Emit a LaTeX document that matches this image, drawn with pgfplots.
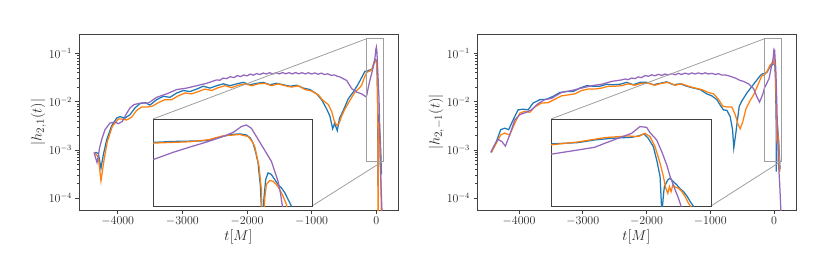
\documentclass[border=0pt]{standalone}
\usepackage{pgfplots}
\pgfplotsset{compat=1.18}
\usepackage{pgfplotstable}
\definecolor{tabblue}{HTML}{1F77B4}
\definecolor{taborange}{HTML}{FF7F0E}
\definecolor{tabpurple}{HTML}{9467BD}
\tikzset{zoomc/.style={black!38, line width=0.8pt}}

\pgfplotstableread{
t h
-4352 8.9e-4
-4300 8.5e-4
-4259 4.2e-4
-4223 7.9e-4
-4171 1.62e-3
-4094 3.16e-3
-4016 4.57e-3
-3965 4.9e-3
-3887 4.57e-3
-3810 5.37e-3
-3733 7.41e-3
-3656 9.12e-3
-3578 9.55e-3
-3501 8.51e-3
-3398 1.10e-2
-3295 1.29e-2
-3192 1.23e-2
-3088 1.51e-2
-2985 1.70e-2
-2882 1.62e-2
-2779 1.82e-2
-2676 2.09e-2
-2573 1.91e-2
-2470 2.14e-2
-2367 2.34e-2
-2263 2.14e-2
-2160 2.34e-2
-2057 2.51e-2
-1954 2.24e-2
-1851 2.40e-2
-1748 2.51e-2
-1645 2.24e-2
-1542 2.40e-2
-1439 2.24e-2
-1335 2.09e-2
-1232 2.19e-2
-1129 1.91e-2
-1026 1.78e-2
-923 1.45e-2
-846 1.10e-2
-768 7.08e-3
-717 5.01e-3
-675 2.75e-3
-645 3.55e-3
-603 2.51e-3
-570 4.47e-3
-510 6.61e-3
-433 1.15e-2
-356 1.58e-2
-278 2.34e-2
-226 3.16e-2
-175 4.27e-2
-150 4.18e-2
-118 4.47e-2
-63 4.67e-2
-40 6.03e-2
-25 7.08e-2
-9.4 7.41e-2
1.4 6.92e-2
8 5.62e-2
12.3 4.0e-2
17 2.0e-2
20.4 1.06e-2
24.2 2.24e-3
27 1.78e-4
30 1.0e-3
32.8 3.49e-3
36.6 5.43e-3
42 4.90e-3
47.4 3.49e-3
52.8 2.51e-3
58.3 2.0e-3
63.7 1.45e-3
69 9.33e-4
74.5 5.89e-4
80 3.16e-4
}\LBlue

\pgfplotstableread{
t h
-4352 8.5e-4
-4300 7.24e-4
-4259 2.29e-4
-4212 6.17e-4
-4161 1.48e-3
-4083 3.09e-3
-3990 4.37e-3
-3939 4.37e-3
-3862 4.17e-3
-3784 4.79e-3
-3707 6.61e-3
-3630 7.76e-3
-3552 7.76e-3
-3475 7.94e-3
-3372 9.55e-3
-3269 1.10e-2
-3166 1.10e-2
-3063 1.32e-2
-2959 1.51e-2
-2856 1.45e-2
-2753 1.62e-2
-2650 1.82e-2
-2547 1.70e-2
-2444 1.95e-2
-2341 2.14e-2
-2238 1.95e-2
-2135 2.19e-2
-2031 2.34e-2
-1928 2.14e-2
-1825 2.34e-2
-1722 2.40e-2
-1619 2.14e-2
-1516 2.34e-2
-1413 2.14e-2
-1310 2.0e-2
-1206 2.14e-2
-1103 1.78e-2
-1000 1.66e-2
-897 1.38e-2
-820 1.05e-2
-742 8.71e-3
-691 6.31e-3
-650 3.98e-3
-613 3.24e-3
-575 3.55e-3
-536 5.01e-3
-484 7.08e-3
-407 1.07e-2
-330 1.58e-2
-263 1.91e-2
-226 2.19e-2
-190 3.02e-2
-150 4.0e-2
-90.5 4.37e-2
-60 5.01e-2
-36.4 6.5e-2
-9.4 7.11e-2
4.2 6.22e-2
10 4.68e-2
15 3.2e-2
22 8.51e-3
25.8 1.78e-3
28.5 3.16e-5
31.2 9.33e-4
33.9 2.51e-3
39.3 3.26e-3
44.7 3.09e-3
50.1 2.51e-3
55.5 1.78e-3
60.9 1.15e-3
66.4 6.61e-4
73 1.58e-4
80 3.16e-5
}\LOrange

\pgfplotstableread{
t h
-4367 8.9e-4
-4345 7.08e-4
-4320 5.5e-4
-4300 7.59e-4
-4280 1.12e-3
-4249 1.62e-3
-4197 2.63e-3
-4120 3.6e-3
-4042 3.8e-3
-3990 3.5e-3
-3929 3.9e-3
-3870 5.5e-3
-3810 7.4e-3
-3748 8.71e-3
-3645 9.33e-3
-3552 9.33e-3
-3516 9.55e-3
-3398 1.23e-2
-3243 1.45e-2
-3088 1.78e-2
-2934 1.91e-2
-2779 2.14e-2
-2624 2.40e-2
-2470 2.82e-2
-2420 2.78e-2
-2370 3.08e-2
-2315 3.0e-2
-2260 3.28e-2
-2200 3.15e-2
-2150 3.48e-2
-2100 3.30e-2
-2050 3.58e-2
-2000 3.42e-2
-1950 3.72e-2
-1900 3.54e-2
-1850 3.82e-2
-1800 3.64e-2
-1750 3.92e-2
-1700 3.74e-2
-1650 3.98e-2
-1600 3.74e-2
-1550 3.98e-2
-1500 3.76e-2
-1450 4.0e-2
-1400 3.78e-2
-1350 3.98e-2
-1300 3.76e-2
-1250 4.0e-2
-1200 3.78e-2
-1150 3.98e-2
-1100 3.76e-2
-1050 3.97e-2
-1000 3.74e-2
-950 3.94e-2
-900 3.70e-2
-850 3.90e-2
-800 3.64e-2
-750 3.78e-2
-700 3.50e-2
-650 3.58e-2
-600 3.35e-2
-561 3.24e-2
-458 2.75e-2
-380 1.86e-2
-303 1.58e-2
-226 1.45e-2
-159 1.26e-2
-150 1.32e-2
-117.5 2.15e-2
-90.5 3.06e-2
-63.5 4.27e-2
-36.4 6.22e-2
-20.2 8.13e-2
-6.7 0.121
1.4 0.135
9.6 0.108
17.7 6.22e-2
25.8 3.57e-2
33.9 2.06e-2
42 1.18e-2
47.4 6.07e-3
52.8 3.13e-3
56.6 1.45e-3
59.9 5.89e-4
75 1.58e-4
92 3.98e-5
}\LPurple

\pgfplotstableread{
t h
-4435 8.9e-4
-4357 1.48e-3
-4288 2.63e-3
-4225 2.82e-3
-4163 2.63e-3
-4094 4.17e-3
-4016 6.76e-3
-3937 7.0e-3
-3858 6.76e-3
-3780 9.33e-3
-3675 1.10e-2
-3570 1.12e-2
-3465 1.29e-2
-3360 1.55e-2
-3256 1.62e-2
-3151 1.62e-2
-3046 1.91e-2
-2941 2.14e-2
-2836 2.09e-2
-2731 2.09e-2
-2626 2.29e-2
-2522 2.24e-2
-2417 2.29e-2
-2312 2.51e-2
-2207 2.24e-2
-2102 2.51e-2
-1997 2.51e-2
-1893 2.24e-2
-1788 2.40e-2
-1683 2.57e-2
-1578 2.24e-2
-1473 2.34e-2
-1368 2.09e-2
-1263 1.91e-2
-1159 1.78e-2
-1054 1.45e-2
-975 1.32e-2
-896 1.10e-2
-844 8.51e-3
-792 6.76e-3
-739 6.61e-3
-687 4.90e-3
-650 2.63e-3
-630 1.10e-3
-598 2.24e-3
-570 4.5e-3
-545 8.0e-3
-510 1.0e-2
-425 1.51e-2
-373 1.86e-2
-267 2.82e-2
-215 3.47e-2
-175 3.80e-2
-150 3.78e-2
-104.7 4.13e-2
-76.4 4.93e-2
-48 5.52e-2
-14 5.90e-2
-2.8 6.46e-2
6.8 7.38e-2
14.1 5.52e-2
22.6 3.16e-2
28.3 1.29e-2
34 4.27e-3
37 3.55e-4
40 1.41e-3
41.3 2.16e-3
47 3.39e-3
50.9 3.80e-3
56.6 3.02e-3
62.3 2.42e-3
68 1.86e-3
73.6 1.55e-3
79.3 1.15e-3
84.9 7.94e-4
90.6 5.69e-4
95 3.98e-4
}\RBlue

\pgfplotstableread{
t h
-4435 8.9e-4
-4357 1.38e-3
-4288 2.04e-3
-4225 2.24e-3
-4147 2.04e-3
-4068 3.55e-3
-3990 5.75e-3
-3911 6.31e-3
-3832 6.03e-3
-3754 7.76e-3
-3649 9.33e-3
-3544 9.55e-3
-3439 1.12e-2
-3334 1.32e-2
-3229 1.38e-2
-3124 1.45e-2
-3020 1.70e-2
-2915 1.82e-2
-2810 1.82e-2
-2705 1.91e-2
-2600 2.09e-2
-2495 2.09e-2
-2391 2.14e-2
-2286 2.34e-2
-2181 2.19e-2
-2076 2.40e-2
-1971 2.40e-2
-1866 2.19e-2
-1761 2.40e-2
-1657 2.51e-2
-1552 2.19e-2
-1447 2.34e-2
-1342 2.09e-2
-1237 1.91e-2
-1132 1.78e-2
-1028 1.55e-2
-949 1.45e-2
-870 1.12e-2
-807 8.13e-3
-739 7.76e-3
-661 7.76e-3
-608 5.37e-3
-560 3.31e-3
-530 2.75e-3
-490 3.80e-3
-440 7.08e-3
-373 1.06e-2
-320 1.38e-2
-267 2.0e-2
-189 3.47e-2
-150 3.55e-2
-104.7 4.32e-2
-59.4 5.77e-2
-19.8 6.46e-2
-2.8 6.17e-2
8.5 7.71e-2
17 6.17e-2
25.5 3.16e-2
34 1.04e-2
39.6 4.27e-3
43.6 1.95e-3
47 1.38e-3
49.8 2.16e-3
52.6 1.55e-3
55.5 2.42e-3
59.4 2.09e-3
65 1.95e-3
70.7 1.55e-3
76.4 1.11e-3
82 7.08e-4
86 5.69e-4
92 3.5e-4
}\ROrange

\pgfplotstableread{
t h
-4446 8.9e-4
-4383 1.29e-3
-4330 1.66e-3
-4267 1.48e-3
-4215 1.20e-3
-4147 2.04e-3
-4068 4.17e-3
-3990 5.37e-3
-3885 6.03e-3
-3806 6.76e-3
-3701 9.12e-3
-3596 1.10e-2
-3491 1.17e-2
-3334 1.55e-2
-3177 1.70e-2
-3020 1.91e-2
-2862 2.14e-2
-2705 2.29e-2
-2548 2.63e-2
-2391 2.82e-2
-2340 2.95e-2
-2290 2.86e-2
-2233 3.09e-2
-2180 3.0e-2
-2130 3.26e-2
-2080 3.14e-2
-2024 3.47e-2
-1970 3.36e-2
-1920 3.60e-2
-1870 3.44e-2
-1814 3.68e-2
-1760 3.50e-2
-1710 3.74e-2
-1660 3.58e-2
-1604 3.80e-2
-1550 3.60e-2
-1500 3.86e-2
-1450 3.66e-2
-1395 3.90e-2
-1340 3.70e-2
-1290 3.94e-2
-1240 3.74e-2
-1185 3.94e-2
-1130 3.74e-2
-1080 3.96e-2
-1030 3.74e-2
-975 3.86e-2
-920 3.66e-2
-870 3.80e-2
-820 3.56e-2
-765 3.58e-2
-700 3.40e-2
-608 3.09e-2
-530 2.75e-2
-477 2.63e-2
-399 2.34e-2
-320 1.86e-2
-267 1.26e-2
-226 9.77e-3
-173 1.45e-2
-150 1.9e-2
-104.7 2.52e-2
-76.4 3.02e-2
-59.4 3.94e-2
-36.8 5.52e-2
-14 7.71e-2
0 0.121
11.3 0.115
17 8.05e-2
28.3 4.93e-2
36.8 2.26e-2
45.3 9.25e-3
50.9 4.27e-3
59.4 1.74e-3
65 1.0e-3
69.6 5.69e-4
90 2.0e-4
110 5.01e-5
}\RPurple

\begin{document}
\begin{tikzpicture}
\path[use as bounding box] (0,0) rectangle (830pt,277pt);
% ---------- left panel ----------
\begin{axis}[at={(79pt,67pt)}, anchor=south west,
    scale only axis, width=319pt, height=176pt,
    ymode=log, ymin=5.7e-5, ymax=0.252, xmin=-4599, xmax=336,
    axis line style={black!75, line width=0.7pt},
    tick align=outside, xtick pos=left, ytick pos=left,
    major tick length=3.5pt, minor tick length=2pt,
    tick style={black!75, line width=0.6pt},
    xtick={-4000,-3000,-2000,-1000,0},
    ytick={1e-4,1e-3,1e-2,1e-1},
    x tick label style={/pgf/number format/1000 sep={}},
    tick label style={font=\fontsize{12}{14}\selectfont, black!85},
    xlabel={$t[M]$}, ylabel={$|h_{2,1}(t)|$},
    label style={font=\fontsize{15}{18}\selectfont, black!85},
    xlabel style={yshift=3pt}, ylabel shift=-4pt]
\addplot[tabblue, line width=1.25pt] table {\LBlue};
\addplot[taborange, line width=1.25pt] table {\LOrange};
\addplot[tabpurple, line width=1.25pt] table {\LPurple};
\draw[zoomc] (axis cs:-150,0.201) rectangle (axis cs:108,5.9e-4);
\coordinate (LA) at (axis cs:-150,0.201);
\coordinate (LB) at (axis cs:108,5.9e-4);
\end{axis}
\draw[zoomc] (LA) -- (153pt,158pt);
\draw[zoomc] (LB) -- (312pt,71pt);
\begin{axis}[at={(153pt,71pt)}, anchor=south west,
    scale only axis, width=159pt, height=87pt,
    ymode=log, xmin=-150, xmax=108, ymin=5.9e-4, ymax=0.201,
    xtick=\empty, ytick=\empty, yminorticks=false,
    axis line style={black!75, line width=0.7pt},
    axis background/.style={fill=white}]
\addplot[tabblue, line width=1.25pt] table {\LBlue};
\addplot[taborange, line width=1.25pt] table {\LOrange};
\addplot[tabpurple, line width=1.25pt] table {\LPurple};
\end{axis}
% ---------- right panel ----------
\begin{axis}[at={(477pt,67pt)}, anchor=south west,
    scale only axis, width=319pt, height=176pt,
    ymode=log, ymin=5.7e-5, ymax=0.252, xmin=-4660, xmax=346,
    axis line style={black!75, line width=0.7pt},
    tick align=outside, xtick pos=left, ytick pos=left,
    major tick length=3.5pt, minor tick length=2pt,
    tick style={black!75, line width=0.6pt},
    xtick={-4000,-3000,-2000,-1000,0},
    ytick={1e-4,1e-3,1e-2,1e-1},
    x tick label style={/pgf/number format/1000 sep={}},
    tick label style={font=\fontsize{12}{14}\selectfont, black!85},
    xlabel={$t[M]$}, ylabel={$|h_{2,-1}(t)|$},
    label style={font=\fontsize{15}{18}\selectfont, black!85},
    xlabel style={yshift=3pt}, ylabel shift=-4pt]
\addplot[tabblue, line width=1.25pt] table {\RBlue};
\addplot[taborange, line width=1.25pt] table {\ROrange};
\addplot[tabpurple, line width=1.25pt] table {\RPurple};
\draw[zoomc] (axis cs:-150,0.201) rectangle (axis cs:120,5.9e-4);
\coordinate (RA) at (axis cs:-150,0.201);
\coordinate (RB) at (axis cs:120,5.9e-4);
\end{axis}
\draw[zoomc] (RA) -- (551pt,158pt);
\draw[zoomc] (RB) -- (711pt,71pt);
\begin{axis}[at={(551pt,71pt)}, anchor=south west,
    scale only axis, width=160pt, height=87pt,
    ymode=log, xmin=-150, xmax=120, ymin=5.9e-4, ymax=0.201,
    xtick=\empty, ytick=\empty, yminorticks=false,
    axis line style={black!75, line width=0.7pt},
    axis background/.style={fill=white}]
\addplot[tabblue, line width=1.25pt] table {\RBlue};
\addplot[taborange, line width=1.25pt] table {\ROrange};
\addplot[tabpurple, line width=1.25pt] table {\RPurple};
\end{axis}
\end{tikzpicture}
\end{document}
